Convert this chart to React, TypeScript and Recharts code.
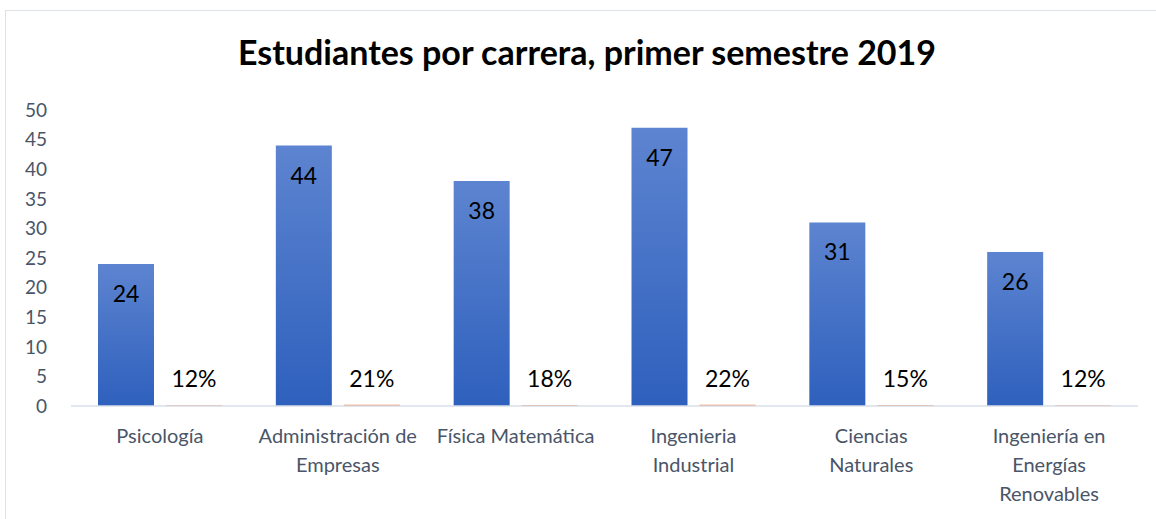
import { Bar, BarChart, LabelList, XAxis, YAxis } from "recharts";

// Values.
const careers = [
  "Psicología",
  "Administración de\nEmpresas",
  "Física Matemática",
  "Ingenieria\nIndustrial",
  "Ciencias\nNaturales",
  "Ingeniería en\nEnergías\nRenovables",
];
const students = [24, 44, 38, 47, 31, 26];
const shares = [0.12, 0.21, 0.18, 0.22, 0.15, 0.12];
const yTicks = [0, 5, 10, 15, 20, 25, 30, 35, 40, 45, 50];

const data = careers.map((name, i) => ({ name, students: students[i], share: shares[i] }));

const FONT = "Lato, 'Liberation Sans', sans-serif";
const AXIS_TEXT = "#4a5568";

function CategoryTick({ x, y, payload }: any) {
  const lines = String(payload.value).split("\n");
  return (
    <text x={x} y={y + 37} textAnchor="middle" fill={AXIS_TEXT} fontSize={20} fontFamily={FONT}>
      {lines.map((line, i) => (
        <tspan key={i} x={x} dy={i === 0 ? 0 : 29}>
          {line}
        </tspan>
      ))}
    </text>
  );
}

function InsideLabel({ x, y, width, value }: any) {
  return (
    <text x={x + width / 2} y={y + 38} textAnchor="middle" fill="#000" fontSize={23} fontFamily={FONT}>
      {value}
    </text>
  );
}

function ShareLabel({ x, y, width, value }: any) {
  return (
    <text x={x + width / 2} y={y - 18} textAnchor="middle" fill="#000" fontSize={23} fontFamily={FONT}>
      {`${Math.round(Number(value) * 100)}%`}
    </text>
  );
}

export default function App() {
  return (
    <div
      style={{
        position: "absolute",
        left: 0,
        top: 0,
        width: 1156,
        height: 519,
        overflow: "hidden",
        background: "#fff",
        fontFamily: FONT,
      }}
    >
      <div
        style={{
          position: "absolute",
          left: 5,
          top: 10,
          width: 1170,
          height: 530,
          border: "1.5px solid #dde1e8",
        }}
      />
      <div
        style={{
          position: "absolute",
          left: 0,
          width: 1174,
          top: 32,
          textAlign: "center",
          fontSize: 34,
          fontWeight: 700,
          color: "#000",
          lineHeight: "40px",
        }}
      >
        Estudiantes por carrera, primer semestre 2019
      </div>
      <div style={{ position: "absolute", left: 0, top: 0 }}>
        <BarChart
          width={1156}
          height={519}
          data={data}
          margin={{ top: 110, right: 18, bottom: 0, left: 0 }}
          barSize={56}
          barGap={12}
          accessibilityLayer={false}
        >
          <defs>
            <linearGradient id="blueFill" x1="0" y1="0" x2="0" y2="1">
              <stop offset="0%" stopColor="#5d84d0" />
              <stop offset="100%" stopColor="#2e60bd" />
            </linearGradient>
          </defs>
          <XAxis
            dataKey="name"
            interval={0}
            height={113}
            tickLine={false}
            tickSize={0}
            tickMargin={0}
            axisLine={{ stroke: "#d9dee8", strokeWidth: 1.5 }}
            tick={<CategoryTick />}
          />
          <YAxis
            width={71}
            domain={[0, 50]}
            ticks={yTicks}
            interval={0}
            axisLine={false}
            tickLine={false}
            tickSize={0}
            tickMargin={24}
            tick={{ fill: AXIS_TEXT, fontSize: 19, fontFamily: FONT }}
          />
          <Bar dataKey="students" fill="url(#blueFill)" isAnimationActive={false}>
            <LabelList dataKey="students" content={<InsideLabel />} />
          </Bar>
          <Bar dataKey="share" fill="#ed7d31" isAnimationActive={false}>
            <LabelList dataKey="share" content={<ShareLabel />} />
          </Bar>
        </BarChart>
      </div>
    </div>
  );
}
